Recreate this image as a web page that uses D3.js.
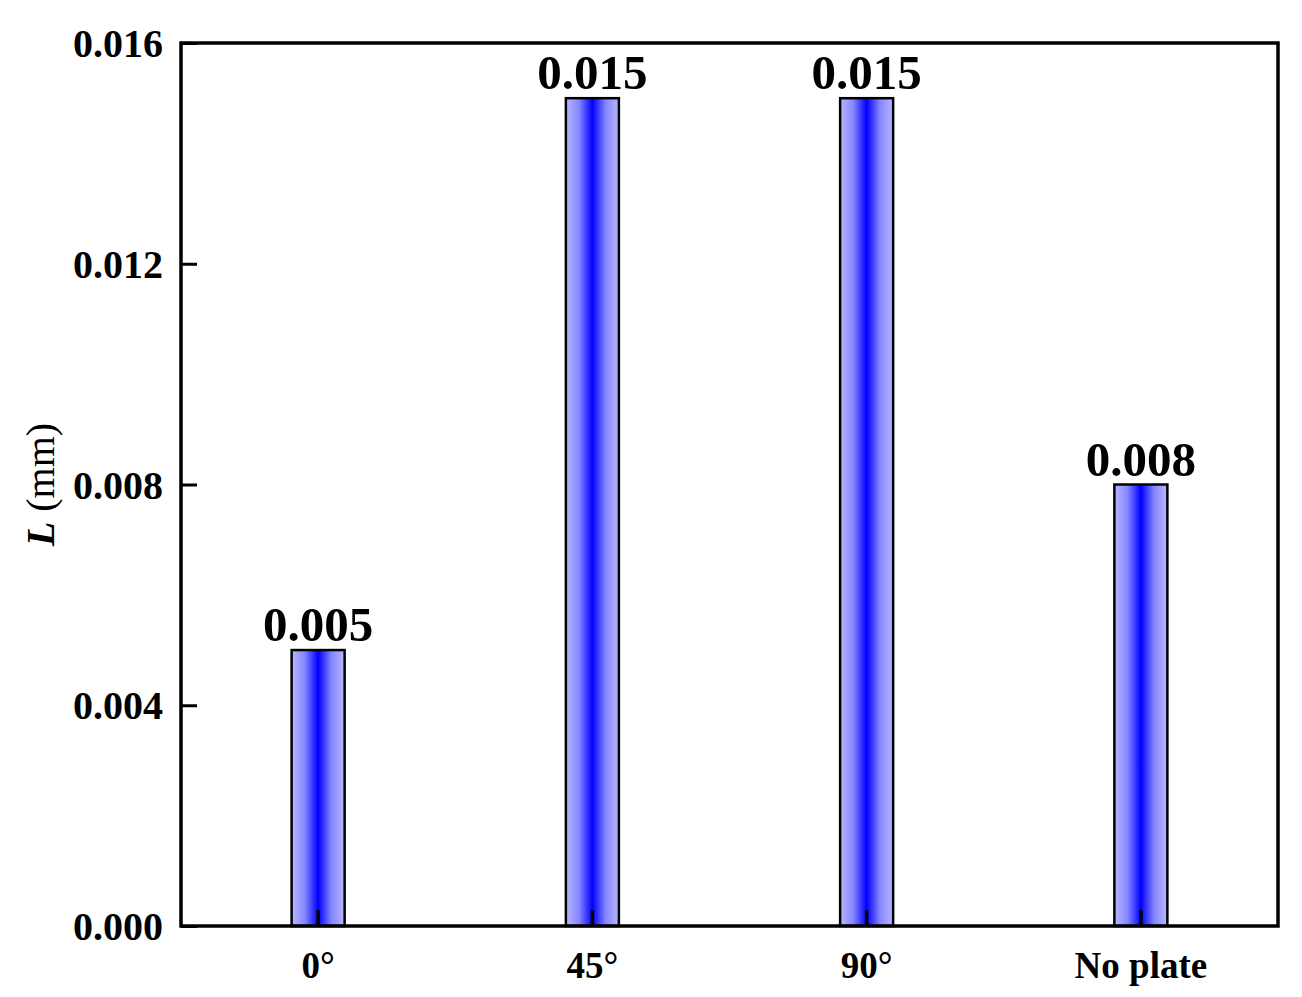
<!DOCTYPE html>
<html>
<head>
<meta charset="utf-8">
<script src="https://cdn.jsdelivr.net/npm/d3@7"></script>
<style>
  html, body { margin: 0; padding: 0; background: #fff; }
  text { font-family: "Liberation Serif", "Times New Roman", serif; font-weight: bold; }
</style>
</head>
<body>
<svg id="chart" width="1302" height="997"></svg>
<script>
const categories = ["0°", "45°", "90°", "No plate"];
const values = [0.005, 0.015, 0.015, 0.008];
const valueLabels = ["0.005", "0.015", "0.015", "0.008"];
const yTicks = [0, 0.004, 0.008, 0.012, 0.016];

const svg = d3.select("#chart");
const margin = { left: 181, right: 24, top: 43, bottom: 71 };
const W = 1302, H = 997;
const x0 = margin.left, x1 = W - margin.right, y0 = H - margin.bottom, y1 = margin.top;

const x = d3.scaleBand().domain(categories).range([x0, x1]).padding(0);
const y = d3.scaleLinear().domain([0, 0.016]).range([y0, y1]);

const defs = svg.append("defs");
const grad = defs.append("linearGradient").attr("id", "barGrad")
  .attr("x1", "0%").attr("x2", "100%").attr("y1", "0%").attr("y2", "0%");
[["0%", "#b8b8ff"], ["25%", "#8585ff"], ["50%", "#0000ff"], ["75%", "#8585ff"], ["100%", "#b8b8ff"]]
  .forEach(([o, c]) => grad.append("stop").attr("offset", o).attr("stop-color", c));

const barW = 53;
svg.append("g").selectAll("rect").data(values).join("rect")
  .attr("x", (d, i) => x(categories[i]) + x.bandwidth() / 2 - barW / 2)
  .attr("y", d => y(d))
  .attr("width", barW)
  .attr("height", d => y0 - y(d))
  .attr("fill", "url(#barGrad)")
  .attr("stroke", "#000")
  .attr("stroke-width", 2.5);

// value labels
svg.append("g").selectAll("text").data(values).join("text")
  .attr("x", (d, i) => x(categories[i]) + x.bandwidth() / 2)
  .attr("y", d => y(d) - 9)
  .attr("text-anchor", "middle")
  .attr("font-size", 49)
  .text((d, i) => valueLabels[i]);

// axes
const xAxis = d3.axisBottom(x).tickSizeInner(-16).tickSizeOuter(0).tickPadding(26);
const gx = svg.append("g").attr("transform", `translate(0,${y0})`).call(xAxis);
gx.select(".domain").remove();
gx.selectAll(".tick line").attr("stroke", "#000").attr("stroke-width", 3.5);
gx.selectAll(".tick text").attr("font-size", 37).attr("fill", "#000")
  .style("font-family", "Liberation Serif").style("font-weight", "bold");

const yAxis = d3.axisLeft(y).tickValues(yTicks).tickFormat(d3.format(".3f"))
  .tickSizeInner(-16).tickSizeOuter(0).tickPadding(18);
const gy = svg.append("g").attr("transform", `translate(${x0},0)`).call(yAxis);
gy.select(".domain").remove();
gy.selectAll(".tick line").attr("stroke", "#000").attr("stroke-width", 3);
gy.selectAll(".tick text").attr("font-size", 40).attr("fill", "#000").attr("dy", "0.34em")
  .style("font-family", "Liberation Serif").style("font-weight", "bold");

// frame
svg.append("rect").attr("x", x0).attr("y", y1).attr("width", x1 - x0).attr("height", y0 - y1)
  .attr("fill", "none").attr("stroke", "#000").attr("stroke-width", 3.5);

// y label
const yl = svg.append("text")
  .attr("transform", `translate(54,${(y0 + y1) / 2}) rotate(-90)`)
  .attr("text-anchor", "middle").attr("font-size", 40);
yl.append("tspan").attr("font-style", "italic").text("L");
yl.append("tspan").attr("font-weight", "normal").text(" (mm)");
</script>
</body>
</html>
